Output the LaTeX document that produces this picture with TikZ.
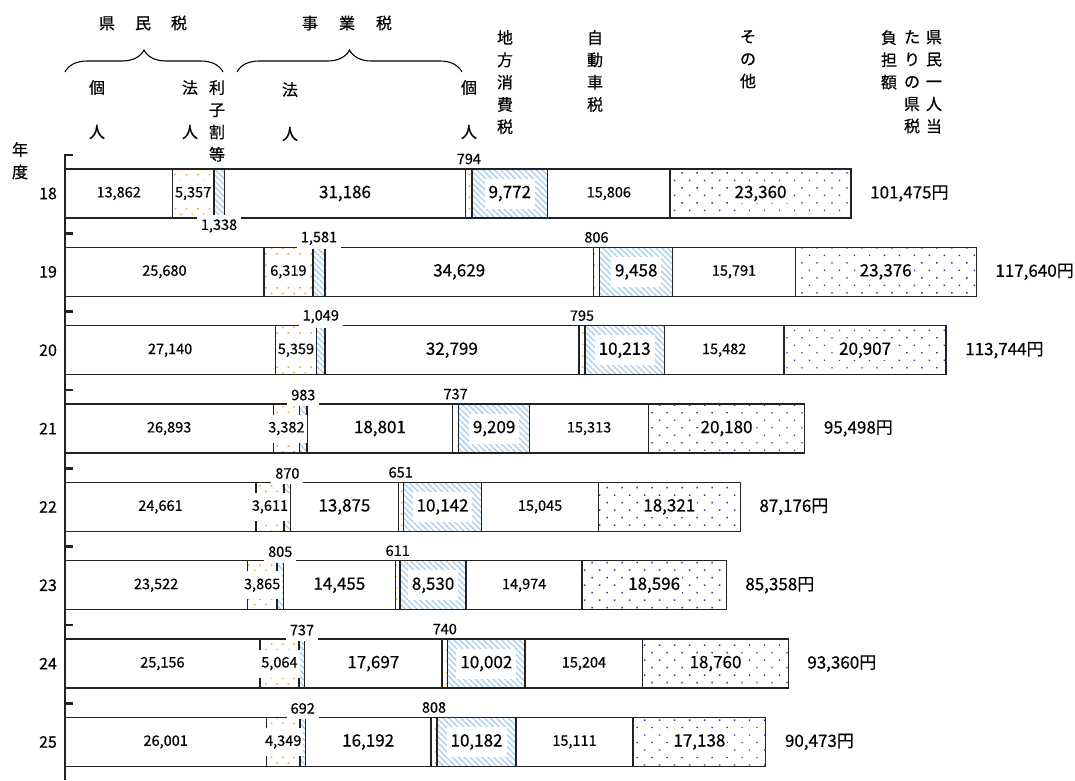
\documentclass[tikz,border=0pt]{standalone}
\usepackage{fontspec}
\setmainfont{Noto Sans CJK JP}[RawFeature={embolden=0.5}]
\usetikzlibrary{patterns.meta,decorations.pathreplacing}

\definecolor{barline}{HTML}{222222}
\definecolor{dotorange}{HTML}{F7A52E}
\definecolor{hatchblue}{HTML}{A6CEF0}
\definecolor{dotnavy}{HTML}{33339E}

\newcommand{\pxper}{0.0077458}

\pgfkeys{/pgf/number format/.cd, fixed, precision=0, set thousands separator={{,}}, assume math mode=true}

\tikzset{
    seg/.style={draw=barline, line width=1.3pt},
    plainseg/.style={seg, fill=white},
    orangeseg/.style={seg, pattern={Dots[radius=1.1pt, distance=8pt, angle=45]}, pattern color=dotorange},
    blueseg/.style={seg, pattern={Lines[angle=-45, distance=4.2pt, line width=1.3pt]}, pattern color=hatchblue},
    navyseg/.style={seg, pattern={Dots[radius=1pt, distance=10.6pt, angle=45]}, pattern color=dotnavy},
    num/.style={font=\fontsize{14.5}{16}\selectfont, inner sep=1pt},
    bignum/.style={font=\fontsize{17}{19}\selectfont, inner sep=1pt},
    yearlbl/.style={font=\fontsize{16}{18}\selectfont},
    whitebox/.style={num, fill=white, inner xsep=2pt, minimum height=28pt},
    smallbox/.style={num, fill=white, inner xsep=4pt, minimum height=22pt},
    hatchbox/.style={bignum, fill=white, inner xsep=4pt, minimum height=30pt},
    dotbox/.style={bignum, fill=white, inner sep=2pt},
    vhead/.style={font=\fontsize{16}{22.3}\selectfont, align=center, anchor=north, inner sep=0pt},
    grouphead/.style={font=\fontsize{16}{18}\selectfont},
    groupbrace/.style={decorate, decoration={brace, amplitude=22pt}, line width=1.1pt},
    axis/.style={line width=2.6pt, barline},
}

\begin{document}
\begin{tikzpicture}[x=1pt, y=-1pt]

    \fill[white] (0,0) rectangle (1075,780);
    \useasboundingbox (0,0) rectangle (1075,780);

    \node[grouphead] (kenminzei) at (143,23) {県\hspace{20pt}民\hspace{20pt}税};
    \node[grouphead] (jigyozei) at (347,23) {事\hspace{21pt}業\hspace{21pt}税};
    \draw[groupbrace] (65,72) -- (223,72);
    \draw[groupbrace] (237,72) -- (462,72);

    \node[vhead] (kojinhd) at (97,80) {個\\[22pt]人};
    \node[vhead] (hojinhd) at (190,80) {法\\[22pt]人};
    \node[vhead] (rishihd) at (217,80) {利\\子\\割\\等};
    \node[vhead] (jhojinhd) at (290,82) {法\\[22pt]人};
    \node[vhead] (jkojinhd) at (469,80) {個\\[22pt]人};
    \node[vhead] (chihohd) at (505,30) {地\\方\\消\\費\\税};
    \node[vhead] (jidoshahd) at (595,30) {自\\動\\車\\税};
    \node[vhead] (sonotahd) at (748,30) {そ\\の\\他};
    \node[vhead] (futanhd) at (889,30) {負\\担\\額};
    \node[vhead] (kenzeihd) at (912,30) {た\\り\\の\\県\\税};
    \node[vhead] (hitorihd) at (934,30) {県\\民\\一\\人\\当};
    \node[vhead] (nendo) at (20,142) {年\\度};

    \foreach \yr/\kojin/\hojin/\rishi/\jhojin/\jkojin/\chiho/\jidosha/\sonota/\total [count=\row from 0] in {
        18/13862/5357/1338/31186/794/9772/15806/23360/101475,
        19/25680/6319/1581/34629/806/9458/15791/23376/117640,
        20/27140/5359/1049/32799/795/10213/15482/20907/113744,
        21/26893/3382/983/18801/737/9209/15313/20180/95498,
        22/24661/3611/870/13875/651/10142/15045/18321/87176,
        23/23522/3865/805/14455/611/8530/14974/18596/85358,
        24/25156/5064/737/17697/740/10002/15204/18760/93360,
        25/26001/4349/692/16192/808/10182/15111/17138/90473} {
        \pgfmathsetmacro{\yt}{169+78.35*\row}
        \pgfmathsetmacro{\yb}{\yt+49}
        \pgfmathsetmacro{\ym}{\yt+24.5}
        \edef\xA{\fpeval{65+\kojin*\pxper}}
        \edef\xB{\fpeval{65+(\kojin+\hojin)*\pxper}}
        \edef\xC{\fpeval{65+(\kojin+\hojin+\rishi)*\pxper}}
        \edef\xD{\fpeval{65+(\kojin+\hojin+\rishi+\jhojin)*\pxper}}
        \edef\xE{\fpeval{65+(\kojin+\hojin+\rishi+\jhojin+\jkojin)*\pxper}}
        \edef\xF{\fpeval{65+(\kojin+\hojin+\rishi+\jhojin+\jkojin+\chiho)*\pxper}}
        \edef\xG{\fpeval{65+(\kojin+\hojin+\rishi+\jhojin+\jkojin+\chiho+\jidosha)*\pxper}}
        \edef\xH{\fpeval{65+\total*\pxper}}

        \draw[plainseg] (65,\yt) rectangle (\xA,\yb);
        \draw[orangeseg] (\xA,\yt) rectangle (\xB,\yb);
        \draw[blueseg] (\xB,\yt) rectangle (\xC,\yb);
        \draw[plainseg] (\xC,\yt) rectangle (\xD,\yb);
        \draw[orangeseg] (\xD,\yt) rectangle (\xE,\yb);
        \draw[blueseg] (\xE,\yt) rectangle (\xF,\yb);
        \draw[plainseg] (\xF,\yt) rectangle (\xG,\yb);
        \draw[navyseg] (\xG,\yt) rectangle (\xH,\yb);

        \node[yearlbl] (year\yr) at (48,\ym) {\yr};
        \node[num] (kojin\yr) at ({(65+\xA)/2},\ym) {\pgfmathprintnumber{\kojin}};
        \node[whitebox] (hojin\yr) at ({(\xA+\xB)/2},\ym) {\pgfmathprintnumber{\hojin}};
        \ifnum\yr=18
            \node[smallbox] (rishi\yr) at ({(\xB+\xC)/2},\yb+8) {\pgfmathprintnumber{\rishi}};
        \else
            \node[smallbox] (rishi\yr) at ({(\xB+\xC)/2},\yt-9) {\pgfmathprintnumber{\rishi}};
        \fi
        \node[bignum] (jhojin\yr) at ({(\xC+\xD)/2},\ym) {\pgfmathprintnumber{\jhojin}};
        \node[num] (jkojin\yr) at ({(\xD+\xE)/2},\yt-10) {\pgfmathprintnumber{\jkojin}};
        \node[hatchbox] (chiho\yr) at ({(\xE+\xF)/2},\ym) {\pgfmathprintnumber{\chiho}};
        \node[num] (jidosha\yr) at ({(\xF+\xG)/2},\ym) {\pgfmathprintnumber{\jidosha}};
        \node[dotbox] (sonota\yr) at ({(\xG+\xH)/2},\ym) {\pgfmathprintnumber{\sonota}};
        \node[bignum, anchor=west] (total\yr) at (\xH+18,\ym) {\pgfmathprintnumber{\total}円};
    }

    \draw[axis] (73,155) -- (65,155) -- (65,780);
    \foreach \row in {1,...,7} {
        \draw[axis] (65,{155+78.35*\row}) -- (73,{155+78.35*\row});
    }

\end{tikzpicture}
\end{document}
